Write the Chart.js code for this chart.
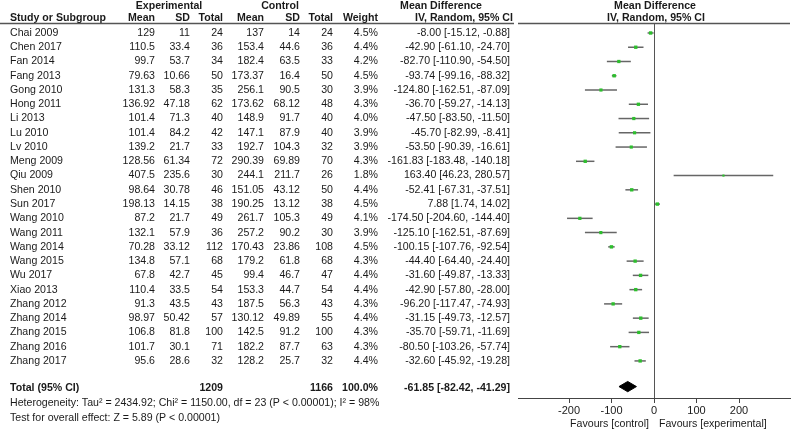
<!DOCTYPE html>
<html>
<head>
<meta charset="utf-8">
<script src="https://cdn.jsdelivr.net/npm/chart.js@4"></script>
<style>
  html, body { margin: 0; padding: 0; background: #fff; }
  #wrap { width: 800px; height: 430px; }
</style>
</head>
<body>
<div id="wrap"><canvas id="forest" width="800" height="430"></canvas></div>
<script>
// forest plot: 24 studies + pooled estimate
const studies = ['Chai 2009', 'Chen 2017', 'Fan 2014', 'Fang 2013', 'Gong 2010', 'Hong 2011', 'Li 2013', 'Lu 2010',
    'Lv 2010', 'Meng 2009', 'Qiu 2009', 'Shen 2010', 'Sun 2017', 'Wang 2010', 'Wang 2011', 'Wang 2014',
    'Wang 2015', 'Wu 2017', 'Xiao 2013', 'Zhang 2012', 'Zhang 2014', 'Zhang 2015', 'Zhang 2016', 'Zhang 2017'];
const expMean = [129, 110.5, 99.7, 79.63, 131.3, 136.92, 101.4, 101.4, 139.2, 128.56, 407.5, 98.64, 198.13, 87.2, 132.1, 70.28, 134.8, 67.8, 110.4, 91.3, 98.97, 106.8, 101.7, 95.6];
const expSD = [11, 33.4, 53.7, 10.66, 58.3, 47.18, 71.3, 84.2, 21.7, 61.34, 235.6, 30.78, 14.15, 21.7, 57.9, 33.12, 57.1, 42.7, 33.5, 43.5, 50.42, 81.8, 30.1, 28.6];
const expN = [24, 36, 34, 50, 35, 62, 40, 42, 33, 72, 30, 46, 38, 49, 36, 112, 68, 45, 54, 43, 57, 100, 71, 32];
const ctlMean = [137, 153.4, 182.4, 173.37, 256.1, 173.62, 148.9, 147.1, 192.7, 290.39, 244.1, 151.05, 190.25, 261.7, 257.2, 170.43, 179.2, 99.4, 153.3, 187.5, 130.12, 142.5, 182.2, 128.2];
const ctlSD = [14, 44.6, 63.5, 16.4, 90.5, 68.12, 91.7, 87.9, 104.3, 69.89, 211.7, 43.12, 13.12, 105.3, 90.2, 23.86, 61.8, 46.7, 44.7, 56.3, 49.89, 91.2, 87.7, 25.7];
const ctlN = [24, 36, 33, 50, 30, 48, 40, 40, 32, 70, 26, 50, 38, 49, 30, 108, 68, 47, 54, 43, 55, 100, 63, 32];
const weight = [4.5, 4.4, 4.2, 4.5, 3.9, 4.3, 4.0, 3.9, 3.9, 4.3, 1.8, 4.4, 4.5, 4.1, 3.9, 4.5, 4.3, 4.4, 4.4, 4.3, 4.4, 4.3, 4.3, 4.4];
const md = [-8.00, -42.90, -82.70, -93.74, -124.80, -36.70, -47.50, -45.70, -53.50, -161.83, 163.40, -52.41, 7.88, -174.50, -125.10, -100.15, -44.40, -31.60, -42.90, -96.20, -31.15, -35.70, -80.50, -32.60];
const ciLo = [-15.12, -61.10, -110.90, -99.16, -162.51, -59.27, -83.50, -82.99, -90.39, -183.48, 46.23, -67.31, 1.74, -204.60, -162.51, -107.76, -64.40, -49.87, -57.80, -117.47, -49.73, -59.71, -103.26, -45.92];
const ciHi = [-0.88, -24.70, -54.50, -88.32, -87.09, -14.13, -11.50, -8.41, -16.61, -140.18, 280.57, -37.51, 14.02, -144.40, -87.69, -92.54, -24.40, -13.33, -28.00, -74.93, -12.57, -11.69, -57.74, -19.28];

// pooled
const totalExpN = 1209;
const totalCtlN = 1166;
const totalMd = -61.85, totalLo = -82.42, totalHi = -41.29;
const totalRow = 24.8;
const heterogeneity = 'Heterogeneity: Tau² = 2434.92; Chi² = 1150.00, df = 23 (P < 0.00001); I² = 98%';
const overallTest = 'Test for overall effect: Z = 5.89 (P < 0.00001)';

const xTicks = [-200, -100, 0, 100, 200];

const FONT = "'Liberation Sans', Arial, sans-serif";
const INK = '#1a1a1a';
const LINE = '#555';
const GREEN = '#2dbf2d';

function ci(m, lo, hi) { return `${m.toFixed(2)} [${lo.toFixed(2)}, ${hi.toFixed(2)}]`; }

// table text and reference lines
const tablePlugin = {
    id: 'table',
    afterDraw(chart) {
        const c = chart.ctx;
        const ys = chart.scales.y, xs = chart.scales.x;
        const area = chart.chartArea;
        const put = (t, x, y, align, bold) => {
            c.font = (bold ? 'bold ' : '') + '10.6px ' + FONT;
            c.textAlign = align;
            c.fillText(t, x, y);
        };
        c.save();
        c.fillStyle = INK;
        c.textBaseline = 'middle';

        // headers
        put('Experimental', 169, 6, 'center', true);
        put('Control', 280, 6, 'center', true);
        put('Mean Difference', 441, 6, 'center', true);
        put('Mean Difference', 655, 6, 'center', true);
        put('Study or Subgroup', 10, 18, 'left', true);
        put('Mean', 155, 18, 'right', true);
        put('SD', 190, 18, 'right', true);
        put('Total', 223, 18, 'right', true);
        put('Mean', 264, 18, 'right', true);
        put('SD', 300, 18, 'right', true);
        put('Total', 333, 18, 'right', true);
        put('Weight', 378, 18, 'right', true);
        put('IV, Random, 95% CI', 464, 18, 'center', true);
        put('IV, Random, 95% CI', 656, 18, 'center', true);

        studies.forEach((s, i) => {
            const y = ys.getPixelForValue(i);
            put(s, 10, y, 'left');
            put(String(expMean[i]), 155, y, 'right');
            put(String(expSD[i]), 190, y, 'right');
            put(String(expN[i]), 223, y, 'right');
            put(String(ctlMean[i]), 264, y, 'right');
            put(String(ctlSD[i]), 300, y, 'right');
            put(String(ctlN[i]), 333, y, 'right');
            put(weight[i].toFixed(1) + '%', 378, y, 'right');
            put(ci(md[i], ciLo[i], ciHi[i]), 510, y, 'right');
        });

        const ty = ys.getPixelForValue(totalRow) + 1;
        put('Total (95% CI)', 10, ty, 'left', true);
        put(String(totalExpN), 223, ty, 'right', true);
        put(String(totalCtlN), 333, ty, 'right', true);
        put('100.0%', 378, ty, 'right', true);
        put(ci(totalMd, totalLo, totalHi), 510, ty, 'right', true);
        put(heterogeneity, 10, 403, 'left');
        put(overallTest, 10, 418, 'left');

        put('Favours [control]', 649, 424, 'right');
        put('Favours [experimental]', 659, 424, 'left');

        // header rule and zero line
        c.strokeStyle = LINE;
        c.lineWidth = 1.5;
        c.beginPath();
        c.moveTo(0, 23.5); c.lineTo(514, 23.5);
        c.moveTo(area.left, 23.5); c.lineTo(area.right, 23.5);
        c.stroke();
        const x0 = Math.round(xs.getPixelForValue(0)) + 0.5;
        c.lineWidth = 1;
        c.beginPath();
        c.moveTo(x0, 23.5); c.lineTo(x0, area.bottom);
        c.stroke();
        c.restore();
    }
};

const ciSets = studies.map((s, i) => ({
    type: 'line',
    data: [{ x: ciLo[i], y: i }, { x: ciHi[i], y: i }],
    borderColor: '#666',
    borderWidth: 1.5,
    pointRadius: 0,
    order: 2,
}));

const pointSet = {
    type: 'scatter',
    data: studies.map((s, i) => ({ x: md[i], y: i })),
    pointStyle: 'rect',
    pointRadius: weight.map(w => 2.4 * Math.sqrt(w / 4.5)),
    backgroundColor: GREEN,
    borderColor: GREEN,
    borderWidth: 0,
    order: 1,
};

const diamondSet = {
    type: 'line',
    data: [
        { x: totalLo, y: totalRow },
        { x: totalMd, y: totalRow - 0.36 },
        { x: totalHi, y: totalRow },
        { x: totalMd, y: totalRow + 0.36 },
        { x: totalLo, y: totalRow },
    ],
    borderColor: '#000',
    backgroundColor: '#000',
    borderWidth: 1,
    pointRadius: 0,
    fill: 'shape',
    tension: 0,
    order: 0,
};

new Chart(document.getElementById('forest'), {
    type: 'scatter',
    data: { datasets: [...ciSets, pointSet, diamondSet] },
    options: {
        responsive: false,
        animation: false,
        layout: { padding: { left: 518, right: 10, top: 23, bottom: 0 } },
        plugins: { legend: { display: false }, tooltip: { enabled: false } },
        scales: {
            x: {
                type: 'linear',
                min: -320,
                max: 320,
                afterBuildTicks: sc => { sc.ticks = xTicks.map(v => ({ value: v })); },
                afterFit: sc => { sc.height = 32; },
                ticks: { color: INK, font: { family: FONT, size: 11 }, padding: 1, maxRotation: 0 },
                grid: { drawOnChartArea: false, drawTicks: true, tickLength: 5, color: '#444' },
                border: { color: '#444', width: 1 },
            },
            y: {
                type: 'linear',
                display: false,
                reverse: true,
                min: -0.7,
                max: 25.6,
            }
        }
    },
    plugins: [tablePlugin]
});
</script>
</body>
</html>
